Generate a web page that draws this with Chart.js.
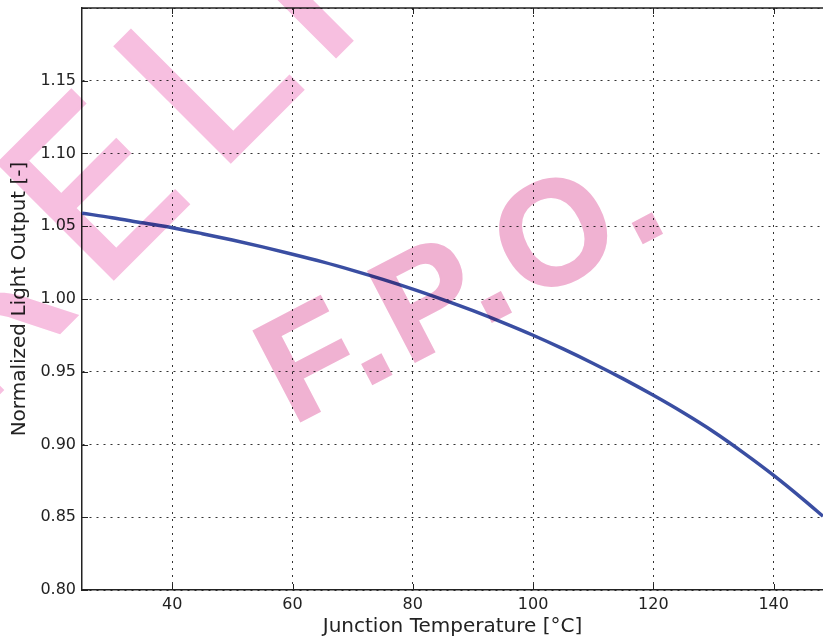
<!DOCTYPE html>
<html>
<head>
<meta charset="utf-8">
<script src="https://cdn.jsdelivr.net/npm/chart.js@4"></script>
<style>
  body { margin: 0; background: #fff; overflow: hidden; }
  canvas { display: block; }
</style>
</head>
<body>
<canvas id="grafico" width="823" height="641"></canvas>
<script>
// valores
const temperaturas = [25, 30, 35, 40, 45, 50, 55, 60, 65, 70, 75, 80, 85, 90, 95, 100, 105, 110, 115, 120, 125, 130, 135, 140, 145, 148.2];
const salidaLuz = [1.0590, 1.0559, 1.0524, 1.0490, 1.0449, 1.0405, 1.0358, 1.0308, 1.0255, 1.0197, 1.0135, 1.0068, 0.9996, 0.9920, 0.9838, 0.9751, 0.9657, 0.9557, 0.9451, 0.9338, 0.9218, 0.9088, 0.8943, 0.8788, 0.8620, 0.8507];
const ticksX = [40, 60, 80, 100, 120, 140];
const ticksY = [0.80, 0.85, 0.90, 0.95, 1.00, 1.05, 1.10, 1.15, 1.20];

const tituloX = 'Junction Temperature [°C]';
const tituloY = 'Normalized Light Output [-]';
const marcaAgua1 = 'PRELIMINARY';
const marcaAgua2 = 'F.P.O.';

const fuente = '"DejaVu Sans", sans-serif';
const colorTexto = '#222';

const fondoBlanco = {
  id: 'fondoBlanco',
  beforeDraw(chart) {
    const ctx = chart.ctx;
    ctx.save();
    ctx.fillStyle = '#fff';
    ctx.fillRect(0, 0, chart.width, chart.height);
    ctx.restore();
  }
};

// borde superior y marcas de ticks hacia adentro
const marcasEje = {
  id: 'marcasEje',
  afterDraw(chart) {
    const ctx = chart.ctx;
    const area = chart.chartArea;
    const x = chart.scales.x;
    const y = chart.scales.y;
    ctx.save();
    ctx.strokeStyle = colorTexto;
    ctx.lineWidth = 1.5;
    ctx.beginPath();
    ctx.moveTo(area.left, area.top);
    ctx.lineTo(area.right + 2, area.top);
    ctx.stroke();
    ctx.lineWidth = 1;
    ctx.beginPath();
    ticksX.forEach(v => {
      const px = Math.round(x.getPixelForValue(v)) + 0.5;
      ctx.moveTo(px, area.bottom); ctx.lineTo(px, area.bottom - 6);
      ctx.moveTo(px, area.top); ctx.lineTo(px, area.top + 6);
    });
    ticksY.forEach(v => {
      const py = Math.round(y.getPixelForValue(v)) + 0.5;
      ctx.moveTo(area.left, py); ctx.lineTo(area.left + 6, py);
    });
    ctx.stroke();
    ctx.restore();
  }
};

// marcas de agua en un canvas aparte y luego mezcladas con multiply
const marcasAgua = {
  id: 'marcasAgua',
  afterDraw(chart) {
    const capa = document.createElement('canvas');
    capa.width = chart.width;
    capa.height = chart.height;
    const c = capa.getContext('2d');

    c.save();
    c.font = '224px "DejaVu Sans"';
    c.letterSpacing = '24px';
    c.fillStyle = '#f7bfe0';
    c.strokeStyle = '#f7bfe0';
    c.lineWidth = 3;
    c.lineJoin = 'miter';
    c.translate(230.7, 161.7);
    c.rotate(-Math.PI / 4);
    const antes = c.measureText('PRE').width + 0.098 * 224;
    c.fillText(marcaAgua1, -antes, 0);
    c.strokeText(marcaAgua1, -antes, 0);
    c.restore();

    c.save();
    c.font = 'bold 148px "Liberation Sans"';
    c.letterSpacing = '7px';
    c.fillStyle = '#f0b2d2';
    c.strokeStyle = '#f0b2d2';
    c.lineWidth = 2;
    c.translate(301.7, 420.7);
    c.rotate(-27.5 * Math.PI / 180);
    c.fillText(marcaAgua2, -11, 0);
    c.strokeText(marcaAgua2, -11, 0);
    c.restore();

    const ctx = chart.ctx;
    ctx.save();
    ctx.globalCompositeOperation = 'multiply';
    ctx.drawImage(capa, 0, 0);
    ctx.restore();
  }
};

const puntos = temperaturas.map((t, i) => ({ x: t, y: salidaLuz[i] }));

function sinRelleno(scale) {
  scale.paddingTop = 0;
  scale.paddingBottom = 0;
  scale.paddingLeft = 0;
  scale.paddingRight = 0;
}

const configuracion = {
  type: 'line',
  data: {
    datasets: [{
      data: puntos,
      borderColor: '#3a4ea2',
      borderWidth: 3.5,
      pointRadius: 0,
      cubicInterpolationMode: 'monotone',
      fill: false
    }]
  },
  options: {
    responsive: false,
    devicePixelRatio: 1,
    animation: false,
    layout: { padding: { top: 8, right: 0, left: 0, bottom: 0 } },
    plugins: { legend: { display: false }, tooltip: { enabled: false } },
    scales: {
      x: {
        type: 'linear',
        min: 25,
        max: 148.2,
        afterBuildTicks: scale => { scale.ticks = ticksX.map(v => ({ value: v })); },
        afterFit: scale => { scale.height = 51; sinRelleno(scale); },
        grid: { color: 'rgba(0,0,0,0.8)', lineWidth: 1, drawTicks: false },
        border: { display: true, color: colorTexto, width: 1.5, dash: [2, 5] },
        ticks: {
          padding: 5,
          color: colorTexto,
          font: { family: fuente, size: 16 },
          maxRotation: 0,
          callback: v => String(v)
        },
        title: {
          display: true,
          text: tituloX,
          color: colorTexto,
          font: { family: fuente, size: 20 },
          padding: { top: 2, bottom: 2 }
        }
      },
      y: {
        min: 0.80,
        max: 1.20,
        afterBuildTicks: scale => { scale.ticks = ticksY.map(v => ({ value: v })); },
        afterFit: scale => { scale.width = 82; sinRelleno(scale); },
        grid: { color: 'rgba(0,0,0,0.8)', lineWidth: 1, drawTicks: false },
        border: { display: true, color: colorTexto, width: 1.5, dash: [2, 5] },
        ticks: {
          padding: 6,
          color: colorTexto,
          font: { family: fuente, size: 16 },
          callback: v => (Math.abs(v - 1.20) < 1e-6 ? '' : v.toFixed(2))
        },
        title: {
          display: true,
          text: tituloY,
          color: colorTexto,
          font: { family: fuente, size: 20 },
          padding: { top: 8, bottom: 0 }
        }
      }
    }
  },
  plugins: [fondoBlanco, marcasEje, marcasAgua]
};

const grafico = new Chart(document.getElementById('grafico'), configuracion);
</script>
</body>
</html>
